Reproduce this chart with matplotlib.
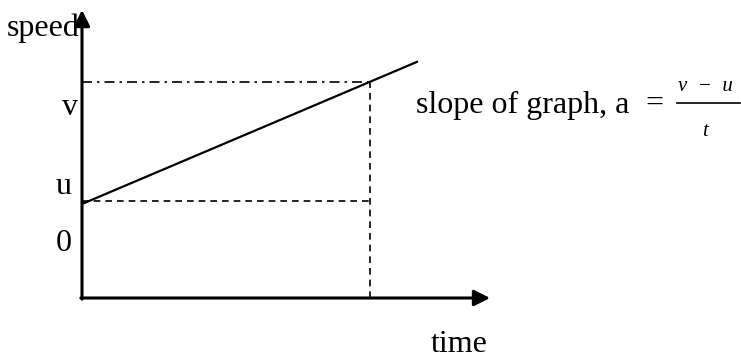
import matplotlib.pyplot as plt
import numpy as np

plt.rcParams['font.family'] = ['Liberation Serif', 'DejaVu Serif']

# values (time in units of t, speed in arbitrary units)
t_end = 1.0          # time of the vertical dashed line
u = 1.0              # starting speed
v = 2.3              # speed at t_end
t_line = np.array([0.0, 1.1667])   # the line runs a bit past t_end
axis_lengths = [1.417, 3.064]      # x and y arrow lengths
axis_labels = ['time', 'speed']
speed_marks = ['v', 'u', '0']
speed_mark_x = [-0.014, -0.036, -0.036]
speed_mark_y = [2.03, 1.19, 0.58]

fig = plt.figure(figsize=(7.41, 3.62), dpi=100)
ax = fig.add_axes([0, 0, 1, 1])
ax.set_xlim(-82/288, (741-82)/288)
ax.set_ylim(-(362-298)/94, 298/94)
ax.axis('off')

# axes with arrow heads
ax.annotate('', xy=(axis_lengths[0], 0), xytext=(-0.004, 0),
            arrowprops=dict(arrowstyle='-|>', lw=2.2, color='k', mutation_scale=24, shrinkA=0, shrinkB=0))
ax.annotate('', xy=(0, axis_lengths[1]), xytext=(0, -0.012),
            arrowprops=dict(arrowstyle='-|>', lw=2.2, color='k', mutation_scale=24, shrinkA=0, shrinkB=0))

# speed-time line
slope = (v - u) / t_end
ax.plot(t_line, u + slope * t_line, 'k', lw=1.6, solid_capstyle='butt')

# guide lines
ax.plot([0, t_end], [v, v], color='k', lw=1.2, ls=(0, (6, 3, 1.5, 3)))
ax.plot([0, t_end], [u + 0.03, u + 0.03], color='k', lw=1.2, ls=(0, (4, 3)))
ax.plot([t_end, t_end], [0, v], color='k', lw=1.2, ls=(0, (4, 3)))

fs = 23
ax.text(-0.007, 2.87, axis_labels[1], fontsize=fs, ha='right', va='center')
ax.text(1.31, -0.5, axis_labels[0], fontsize=fs, ha='center', va='center')
for lab, x, y in zip(speed_marks, speed_mark_x, speed_mark_y):
    ax.text(x, y, lab, fontsize=fs, ha='right', va='center')

# slope formula
ax.text(1.16, 2.05, 'slope of graph, a', fontsize=fs, ha='left', va='center')
ax.text(1.986, 2.064, '=', fontsize=fs, ha='center', va='center')
ax.text(2.069, 2.245, 'v  −  u', fontsize=15, style='italic', ha='left', va='center')
ax.plot([2.066, 2.285], [2.074, 2.074], color='k', lw=1.2)
ax.text(2.163, 1.766, 't', fontsize=15, style='italic', ha='center', va='center')

fig.savefig('out.png', dpi=100)
